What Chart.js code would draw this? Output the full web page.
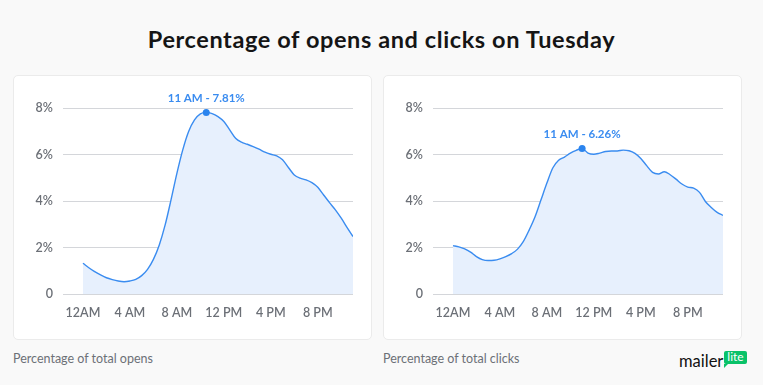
<!DOCTYPE html>
<html>
<head>
<meta charset="utf-8">
<script src="https://cdn.jsdelivr.net/npm/chart.js@4.4.1/dist/chart.umd.min.js"></script>
<style>
    body { margin: 0; background: #f9f9f9; font-family: Lato, "Noto Sans", sans-serif; }
    #page { position: relative; width: 763px; height: 385px; overflow: hidden; }
    #title { position: absolute; left: 0; top: 26px; width: 763px; text-align: center; font-size: 23.5px; font-weight: 700; color: #151515; line-height: 26px; letter-spacing: 0.6px; }
    .card { position: absolute; top: 75px; width: 359px; height: 265px; background: #fff; border: 1px solid #ebebeb; border-radius: 5px; box-sizing: border-box; }
    .card canvas { position: absolute; left: -1px; top: -1px; }
    .note { position: absolute; top: 351px; font-size: 12.5px; color: #6c7077; }
    #logo { position: absolute; left: 679px; top: 351px; font-size: 16.5px; color: #111; }
    #logo .lite { position: relative; display: inline-block; background: #09c269; color: #fff; font-size: 12px; line-height: 12px; padding: 0 3px 1px 3px; border-radius: 2px; vertical-align: 6px; margin-left: 1px; }
    #logo .lite:after { content: ""; position: absolute; left: 0; bottom: -4px; border-left: 4px solid #09c269; border-bottom: 4px solid transparent; }
</style>
</head>
<body>
<div id="page">
    <div id="title">Percentage of opens and clicks on Tuesday</div>
    <div class="card" style="left:13px"><canvas id="opensChart" width="359" height="265"></canvas></div>
    <div class="card" style="left:383px"><canvas id="clicksChart" width="359" height="265"></canvas></div>
    <div class="note" style="left:13px">Percentage of total opens</div>
    <div class="note" style="left:383px">Percentage of total clicks</div>
    <div id="logo">mailer<span class="lite">lite</span></div>
</div>
<script>
// hours of the day (half-hour steps)
var hours = [0, 0.5, 1, 1.5, 2, 2.5, 3, 3.5, 4, 4.5, 5, 5.5, 6, 6.5, 7, 7.5, 8, 8.5, 9, 9.5,
    10, 10.5, 11, 11.5, 12, 12.5, 13, 13.5, 14, 14.5, 15, 15.5, 16, 16.5, 17, 17.5, 18, 18.5,
    19, 19.5, 20, 20.5, 21, 21.5, 22, 22.5, 23];

// percentage of total opens
var opens = [1.32, 1.13, 0.96, 0.82, 0.70, 0.62, 0.56, 0.53, 0.56, 0.63, 0.79, 1.06, 1.49, 2.11,
    2.97, 4.05, 5.19, 6.20, 6.99, 7.49, 7.75, 7.81, 7.76, 7.63, 7.42, 7.06, 6.70, 6.53, 6.44,
    6.34, 6.23, 6.10, 6.01, 5.94, 5.77, 5.44, 5.12, 4.98, 4.91, 4.79, 4.59, 4.26, 3.93, 3.62,
    3.26, 2.86, 2.47];

// percentage of total clicks
var clicks = [2.08, 2.03, 1.94, 1.80, 1.61, 1.48, 1.44, 1.45, 1.51, 1.61, 1.74, 1.93, 2.26, 2.76,
    3.33, 4.05, 4.77, 5.42, 5.75, 5.89, 6.06, 6.18, 6.26, 6.06, 6.01, 6.06, 6.13, 6.15, 6.15,
    6.19, 6.16, 6.05, 5.83, 5.52, 5.23, 5.16, 5.26, 5.13, 4.94, 4.73, 4.60, 4.55, 4.37, 3.98,
    3.72, 3.51, 3.38];

var xTickHours = [0, 4, 8, 12, 16, 20];
var xTickLabels = ['12AM', '4 AM', '8 AM', '12 PM', '4 PM', '8 PM'];
var yTickValues = [0, 2, 4, 6, 8];
var yTickLabels = ['0', '2%', '4%', '6%', '8%'];

var peakIndex = [21, 22];
var peakLabels = ['11 AM - 7.81%', '11 AM - 6.26%'];

var blue = '#3a8cf0';
var tickFont = { family: 'Lato', size: 12.5, weight: '600' };

function makeChart(canvasId, values, peakIdx, peakText) {
    var points = hours.map(function (h, i) {
        return { x: h, y: values[i] };
    });

    // draws the peak text above the marked point
    var peakLabelPlugin = {
        id: 'peakLabel',
        afterDatasetsDraw: function (chart) {
            var pt = chart.getDatasetMeta(0).data[peakIdx];
            var ctx = chart.ctx;
            ctx.save();
            ctx.font = '700 11.5px Lato';
            ctx.fillStyle = blue;
            ctx.textAlign = 'center';
            ctx.textBaseline = 'middle';
            ctx.fillText(peakText, pt.x, pt.y - 14);
            ctx.restore();
        }
    };

    return new Chart(document.getElementById(canvasId).getContext('2d'), {
        type: 'line',
        data: {
            datasets: [{
                data: points,
                borderColor: blue,
                borderWidth: 1.4,
                backgroundColor: '#e7f0fd',
                fill: 'origin',
                cubicInterpolationMode: 'monotone',
                pointRadius: function (c) { return c.dataIndex === peakIdx ? 3.5 : 0; },
                pointBackgroundColor: '#2b84ee',
                pointBorderWidth: 0
            }]
        },
        options: {
            responsive: false,
            animation: false,
            layout: { padding: { top: 33, right: 19, bottom: 0, left: 0 } },
            plugins: { legend: { display: false }, tooltip: { enabled: false } },
            scales: {
                x: {
                    type: 'linear',
                    min: -1.7,
                    max: 23,
                    afterBuildTicks: function (scale) {
                        scale.ticks = xTickHours.map(function (h) { return { value: h }; });
                    },
                    afterFit: function (scale) { scale.height = 46; },
                    grid: { display: false, drawTicks: false },
                    border: { display: false },
                    ticks: {
                        padding: 11,
                        maxRotation: 0,
                        autoSkip: false,
                        color: '#6c7077',
                        font: tickFont,
                        callback: function (v) { return xTickLabels[xTickHours.indexOf(v)]; }
                    }
                },
                y: {
                    min: 0,
                    max: 8,
                    afterBuildTicks: function (scale) {
                        scale.ticks = yTickValues.map(function (v) { return { value: v }; });
                    },
                    afterFit: function (scale) { scale.width = 50; },
                    grid: { color: '#d4d6da', lineWidth: 1, drawTicks: false },
                    border: { display: false },
                    ticks: {
                        padding: 10,
                        color: '#6c7077',
                        font: tickFont,
                        callback: function (v) { return yTickLabels[yTickValues.indexOf(v)]; }
                    }
                }
            }
        },
        plugins: [peakLabelPlugin]
    });
}

makeChart('opensChart', opens, peakIndex[0], peakLabels[0]);
makeChart('clicksChart', clicks, peakIndex[1], peakLabels[1]);
</script>
</body>
</html>
